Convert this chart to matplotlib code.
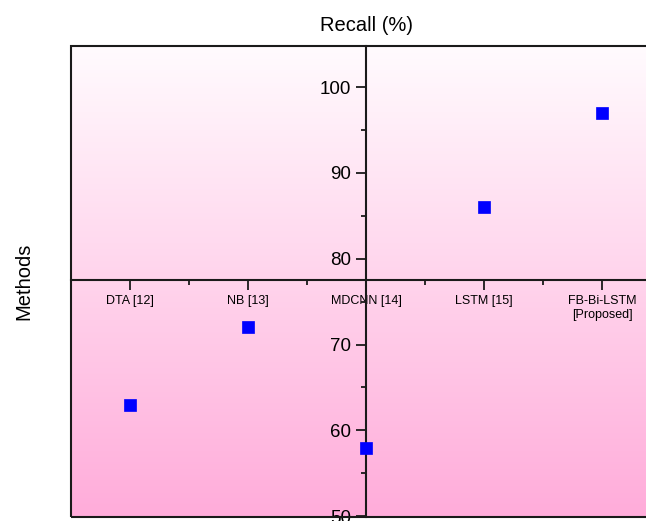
import numpy as np
import matplotlib.pyplot as plt
from matplotlib.patches import Rectangle
from matplotlib.ticker import MultipleLocator, FixedLocator

plt.rcParams['font.family'] = ['Liberation Sans', 'DejaVu Sans']

# datos
metodos = ['DTA [12]', 'NB [13]', 'MDCNN [14]', 'LSTM [15]', 'FB-Bi-LSTM\n[Proposed]']
recall = [63, 72, 58, 86, 97]
ticks_y = [50, 60, 70, 80, 90, 100]

pos = np.arange(1, len(metodos) + 1)

fig = plt.figure(figsize=(6.46, 5.21), dpi=100)
ax = fig.add_axes([71/646, 4/521, 590/646, 471/521])

# fondo degradado blanco -> rosa
arriba = np.array([255, 251, 254]) / 255
abajo = np.array([255, 172, 218]) / 255
t = np.linspace(0, 1, 256)[:, None]
grad = (arriba * (1 - t) + abajo * t)[:, None, :]
ax.imshow(grad, extent=[0, 1, 0, 1], transform=ax.transAxes, aspect='auto', zorder=0)

ax.plot(pos, recall, 's', color='#0000ff', ms=8.8, mec='#0000ff', mew=0.5,
        zorder=4, clip_on=False)

ax.set_xlim(0.5, 5.5)
ax.set_ylim(49.9, 104.8)

# ejes cruzando en el centro
ax.spines['left'].set_position(('data', 3))
ax.spines['bottom'].set_position(('data', 77.5))
ax.spines['top'].set_visible(False)
ax.spines['right'].set_visible(False)
for s in ['left', 'bottom']:
    ax.spines[s].set_linewidth(1.5)
    ax.spines[s].set_color('#1a1a1a')
ax.add_patch(Rectangle((0, 0), 1, 1, transform=ax.transAxes, fill=False,
                       lw=1.5, ec='#1a1a1a', clip_on=False, zorder=3))

ax.set_xticks(pos)
ax.set_xticklabels(metodos, fontsize=9)
ax.xaxis.set_minor_locator(FixedLocator([1.5, 2.5, 3.5, 4.5]))
ax.set_yticks(ticks_y)
ax.set_yticklabels([str(v) for v in ticks_y], fontsize=13.5)
ax.yaxis.set_minor_locator(MultipleLocator(5))
ax.tick_params(which='major', direction='out', length=7, width=1.3, color='#1a1a1a')
ax.tick_params(which='minor', direction='out', length=3.5, width=1.3, color='#1a1a1a')
ax.tick_params(axis='x', which='major', pad=4)

ax.set_title('Recall (%)', fontsize=14.5, pad=11)
ax.set_ylabel('Methods', fontsize=14.5)
ax.yaxis.set_label_coords(-0.064, 0.5)

fig.savefig('out.png', dpi=100)
